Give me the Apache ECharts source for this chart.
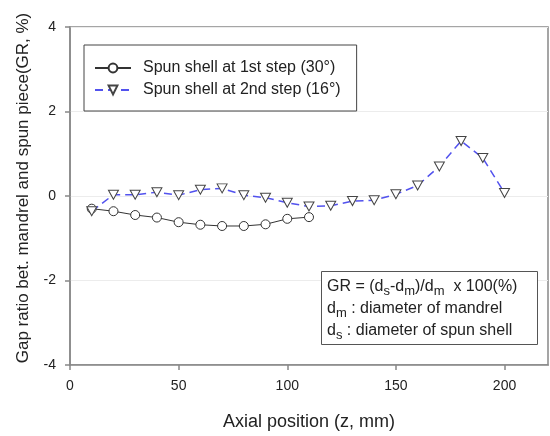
<!DOCTYPE html>
<html>
<head>
<meta charset="utf-8">
<script src="https://cdn.jsdelivr.net/npm/echarts@6/dist/echarts.min.js"></script>
<style>html,body{margin:0;padding:0;background:#fff}#c{width:550px;height:436px}</style>
</head>
<body>
<div id="c"></div>
<script>
const FONT = 'Liberation Sans, Arial, sans-serif';
const seriesNames = ['Spun shell at 1st step (30°)', 'Spun shell at 2nd step (16°)'];
const z1 = [10, 20, 30, 40, 50, 60, 70, 80, 90, 100, 110];
const gr1 = [-0.30, -0.36, -0.45, -0.51, -0.62, -0.68, -0.71, -0.71, -0.67, -0.54, -0.50];
const z2 = [10, 20, 30, 40, 50, 60, 70, 80, 90, 100, 110, 120, 130, 140, 150, 160, 170, 180, 190, 200];
const gr2 = [-0.36, 0.03, 0.03, 0.09, 0.02, 0.15, 0.18, 0.02, -0.04, -0.16, -0.25, -0.23, -0.12, -0.10, 0.04, 0.25, 0.70, 1.30, 0.90, 0.07];
const xTicks = [0, 50, 100, 150, 200];
const yTicks = [-4, -2, 0, 2, 4];
const xName = 'Axial position (z, mm)';
const yName = 'Gap ratio bet. mandrel and spun piece(GR, %)';
const noteText = 'GR = (d{s|s}-d{s|m})/d{s|m}  x 100(%)\nd{s|m} : diameter of mandrel\nd{s|s} : diameter of spun shell';

const chart = echarts.init(document.getElementById('c'), null, {renderer: 'canvas'});
const axisCol = '#888';
chart.setOption({
  backgroundColor: '#fff',
  animation: false,
  grid: {left: 70, right: 2, top: 27, bottom: 66, show: true, borderColor: axisCol, borderWidth: 1.5, backgroundColor: 'transparent'},
  xAxis: {
    type: 'value', min: 0, max: 220, interval: 50,
    name: xName, nameLocation: 'middle', nameGap: 48,
    nameTextStyle: {fontFamily: FONT, fontSize: 18, color: '#222'},
    axisLine: {show: true, onZero: false, lineStyle: {color: axisCol, width: 1.5}},
    axisTick: {show: true, inside: false, length: 5, lineStyle: {color: axisCol, width: 1.5}, customValues: xTicks},
    axisLabel: {fontFamily: FONT, fontSize: 14, color: '#222', margin: 14, customValues: xTicks},
    splitLine: {show: false}
  },
  yAxis: {
    type: 'value', min: -4, max: 4, interval: 2,
    axisLine: {show: true, onZero: false, lineStyle: {color: axisCol, width: 1.5}},
    axisTick: {show: true, inside: false, length: 5, lineStyle: {color: axisCol, width: 1.5}, customValues: yTicks},
    axisLabel: {fontFamily: FONT, fontSize: 14, color: '#222', margin: 14, customValues: yTicks},
    splitLine: {show: true, lineStyle: {color: '#ececec', width: 1}}
  },
  legend: {
    orient: 'vertical', left: 84, top: 45,
    padding: [15, 16, 13, 10], itemGap: 6, itemWidth: 36, itemHeight: 11,
    borderColor: '#444', borderWidth: 1, backgroundColor: '#fff',
    textStyle: {fontFamily: FONT, fontSize: 16, color: '#222', padding: [0, 0, 0, 7]},
    data: seriesNames
  },
  series: [
    {
      name: seriesNames[0], type: 'line',
      data: z1.map((x, i) => [x, gr1[i]]),
      symbol: 'circle', symbolSize: 9,
      lineStyle: {color: '#333', width: 1},
      itemStyle: {color: '#fff', borderColor: '#333', borderWidth: 1},
      z: 3
    },
    {
      name: seriesNames[1], type: 'line',
      data: z2.map((x, i) => [x, gr2[i]]),
      symbol: 'triangle', symbolSize: [10, 9], symbolRotate: 180,
      lineStyle: {color: '#5252ee', width: 1.5, type: [8, 5]},
      itemStyle: {color: '#fff', borderColor: '#444', borderWidth: 1},
      z: 4
    }
  ],
  graphic: [
    {type: 'rect', left: 321, top: 271, z: 10,
     shape: {width: 216, height: 73},
     style: {fill: '#fff', stroke: '#555', lineWidth: 1}},
    {type: 'text', left: 327, top: 276, z: 11,
     style: {text: noteText, fontFamily: FONT, fontSize: 16, lineHeight: 22, fill: '#222',
       rich: {s: {fontFamily: FONT, fontSize: 13, lineHeight: 12, verticalAlign: 'bottom', fill: '#222'}}}},
    {type: 'text', x: 23, y: 188, rotation: Math.PI / 2, z: 11,
     style: {text: yName, fontFamily: FONT, fontSize: 17, fill: '#222', align: 'center', verticalAlign: 'middle'}}
  ]
});
</script>
</body>
</html>
